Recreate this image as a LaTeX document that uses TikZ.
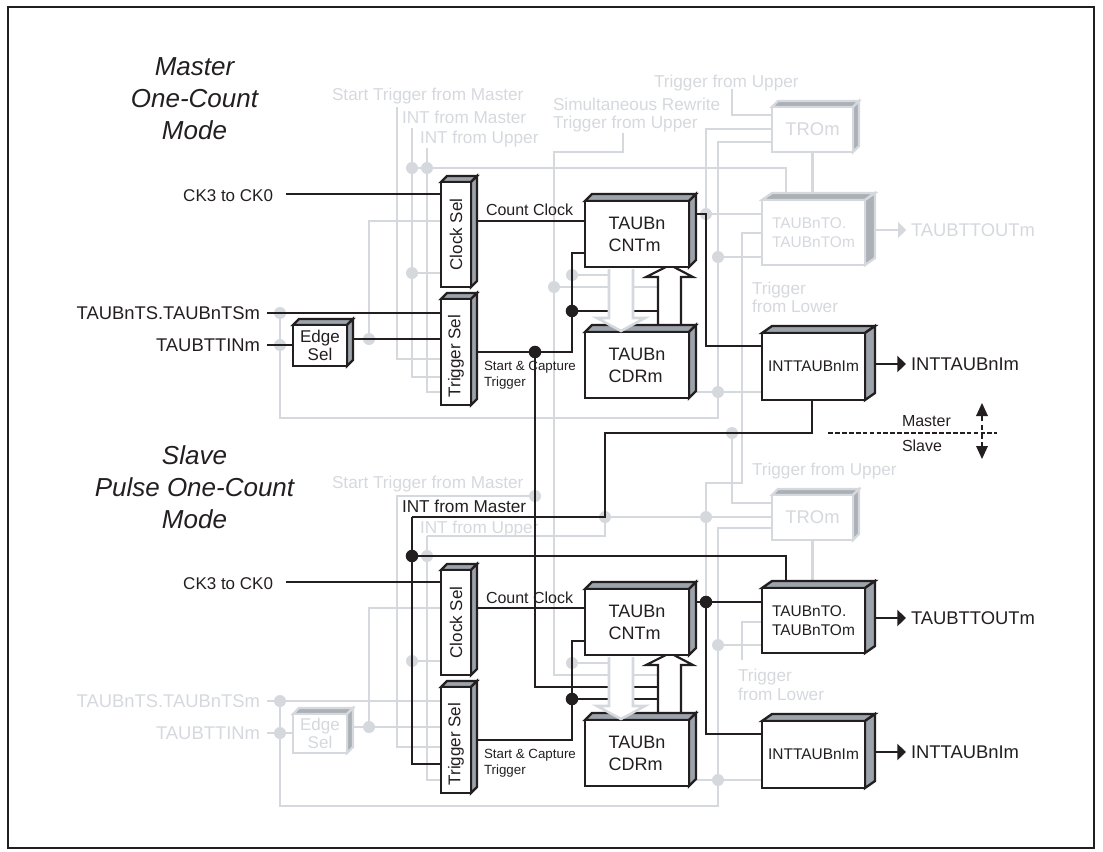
\documentclass[tikz,border=0pt]{standalone}
\usepackage{fontspec}
\usepackage{graphicx}
\setmainfont{Liberation Sans}
\usetikzlibrary{arrows.meta}
\pgfdeclarelayer{wg}\pgfdeclarelayer{bg}\pgfdeclarelayer{wb}\pgfdeclarelayer{top}
\pgfsetlayers{wg,bg,wb,main,top}
\definecolor{ink}{HTML}{231F20}
\definecolor{pale}{HTML}{D5D8DD}
\definecolor{sidek}{HTML}{9DA3AA}
\definecolor{sideg}{HTML}{ABB0B6}
\newcommand{\fs}[2]{\fontsize{#1}{#2}\selectfont}
\tikzset{
  x=0.75pt,y=-0.75pt,
  gw/.style={draw=pale,line width=1.9pt,line join=miter},
  kw/.style={draw=ink,line width=1.65pt,line join=miter},
  gdot/.style={circle,fill=pale,inner sep=0,minimum size=9pt,outer sep=0},
  kdot/.style={circle,fill=ink,inner sep=0,minimum size=9.4pt,outer sep=0},
  lab/.style={inner sep=0,outer sep=0,font=\fs{#1}{14},text height=0.72*#1 pt,text depth=0pt},
  lg/.style={lab=#1,text=pale},
  lk/.style={lab=#1,text=ink},
  blk/.style={draw=ink,fill=white,line width=1.75pt,text=ink,line join=miter},
  gry/.style={draw=pale,fill=white,line width=1.75pt,text=pale,line join=miter},
  outk/.style={kw,-{Triangle[length=6.5pt,width=12pt]}},
  updown/.style={draw=ink,line width=1pt,dash pattern=on 4pt off 2.5pt},
  tboxa/.style={font=\fs{13.5}{16.5},align=left},
  tboxb/.style={font=\fs{11.6}{14.3},align=left},
  tboxc/.style={font=\fs{12.75}{13.5},align=center},
  tboxd/.style={font=\fs{13.8}{16}},
  tboxe/.style={font=\fs{11.6}{14}},
  tboxf/.style={font=\fs{12.75}{15}},
}
\newcommand{\tdbox}[7]{%
  \pgfmathsetmacro{\xa}{#1}\pgfmathsetmacro{\ya}{#2}\pgfmathsetmacro{\xb}{#3}\pgfmathsetmacro{\yb}{#4}%
  \pgfmathsetmacro{\xc}{\xb+#5}\pgfmathsetmacro{\yc}{\ya-#6}\pgfmathsetmacro{\yd}{\yb-#6}\pgfmathsetmacro{\xe}{\xa+#5}%
  \path[#7] (\xa,\ya)--(\xe,\yc)--(\xc,\yc)--(\xb,\ya)--cycle;
  \path[#7] (\xb,\ya)--(\xc,\yc)--(\xc,\yd)--(\xb,\yb)--cycle;
}
\newcommand{\frontbox}[8]{%
  \pgfmathsetmacro{\wid}{((#4)-(#2))*0.75}\pgfmathsetmacro{\hei}{((#5)-(#3))*0.75}%
  \pgfmathsetmacro{\xm}{((#2)+(#4))/2}\pgfmathsetmacro{\ym}{((#3)+(#5))/2}%
  \node[#6,rectangle,inner sep=0,outer sep=0,minimum width=\wid pt,minimum height=\hei pt,#7] (#1) at (\xm,\ym) {#8};
}
\begin{document}
\begin{tikzpicture}
\useasboundingbox (0,0) rectangle (1103,851);
\draw[draw=ink,line width=1.1pt] (8,7) rectangle (1094,848);

% ---------- gray boxes
\begin{pgfonlayer}{bg}
\tdbox{772}{107}{853}{152}{6}{6}{gry,fill=sideg}
\frontbox{troa}{772}{107}{853}{152}{gry}{tboxd}{\raisebox{-1.8pt}{TROm}}
\tdbox{762}{200}{865}{265}{10}{7}{gry,fill=sideg}
\frontbox{toa}{762}{200}{865}{265}{gry}{tboxb}{TAUBnTO.\\TAUBnTOm}
\tdbox{772}{495}{853}{540}{6}{6}{gry,fill=sideg}
\frontbox{trob}{772}{495}{853}{540}{gry}{tboxd}{\raisebox{-1.8pt}{TROm}}
\tdbox{293}{714}{347}{753}{6}{6}{gry,fill=sideg}
\frontbox{edgeb}{293}{714}{347}{753}{gry}{tboxc}{Edge\\Sel}
\end{pgfonlayer}

% ---------- black boxes
\tdbox{293}{325}{347}{366}{6}{6}{blk,fill=sidek}
\frontbox{edgea}{293}{325}{347}{366}{blk}{tboxc}{Edge\\Sel}
\tdbox{762}{588}{865}{653}{10}{7}{blk,fill=sidek}
\frontbox{tob}{762}{588}{865}{653}{blk}{tboxb}{TAUBnTO.\\TAUBnTOm}
\foreach \s/\o in {a/0,b/388}{
  \tdbox{441}{182+\o}{471}{287+\o}{6}{6}{blk,fill=sidek}
  \frontbox{clk\s}{441}{182+\o}{471}{287+\o}{blk}{tboxf}{\rotatebox{90}{Clock Sel}}
  \tdbox{441}{299+\o}{471}{405+\o}{6}{6}{blk,fill=sidek}
  \frontbox{trg\s}{441}{299+\o}{471}{405+\o}{blk}{tboxf}{\rotatebox{90}{Trigger Sel\hspace*{6pt}}}
  \tdbox{585}{201+\o}{689}{267+\o}{7}{7}{blk,fill=sidek}
  \frontbox{cnt\s}{585}{201+\o}{689}{267+\o}{blk}{tboxa}{TAUBn\\CNTm}
  \tdbox{585}{332+\o}{689}{398+\o}{7}{7}{blk,fill=sidek}
  \frontbox{cdr\s}{585}{332+\o}{689}{398+\o}{blk}{tboxa}{TAUBn\\CDRm}
  \tdbox{762}{333+\o}{865}{400+\o}{10}{7}{blk,fill=sidek}
  \frontbox{int\s}{762}{333+\o}{865}{400+\o}{blk}{tboxe}{INTTAUBnIm}
}

% ---------- named junctions
\begin{pgfonlayer}{wg}
\foreach \n/\x/\y in {ga1/412/168,ga2/427/168,ga3/412/273,ga4/369/339,ga5/280/313,ga6/280/345,ga7/554/287,ga8/572/275,ga9/706/214,ga10/718/257,ga11/718/392,ga12/732/433,
 gb1/427/556,gb2/412/661,gb3/369/727,gb4/280/701,gb5/280/733,gb6/535/496,gb7/605/517,gb8/706/517,gb9/572/663,gb10/718/645,gb11/718/780}
  \node[gdot] (\n) at (\x,\y) {};
\end{pgfonlayer}
\node[kdot] (ka1) at (572,311) {};
\node[kdot] (ka2) at (535,352) {};
\node[kdot] (kb1) at (412,556) {};
\node[kdot] (kb2) at (572,699) {};
\node[kdot] (kb3) at (706,602) {};

% free ends and levels
\foreach \n/\x/\y in {sa/397/107,ima/412/128,iua/427/148,ya359/441/359,ya377/441/377,ya392/441/392,
 rw/623/133,rwc/554/152,rwe/657/675,rwr/658/287,rwq/609/287,rwq2/633/287,
 tua/732/89,ya115/772/115,ya129/772/129,ya142/772/142,tol/742/233,to233/762/233,ya257/762/257,ya221/441/221,
 bot/280/418,bota/718/418,
 tsl/267/313,ttl/267/345,ckl/286/194,cka/441/194,tsb/267/701,ttb/267/733,ckb/286/582,ckr/441/582,
 c483/706/483,c483b/742/483,low/742/660,low2/742/622,low3/762/622,
 c503/732/503,c503b/772/503,c528/718/528,c528b/772/528,botb/280/806,botc/718/806,
 c496/397/496,y747/441/747,c536/427/536,c536b/605/536,y780/427/780,y780b/441/780,y608/369/608,y608b/441/608,
 e517/772/517,mid/605/433,mid2/812/433,d517/412/517,y764/441/764,
 j687/535/687,j687b/657/687,j311/657/311,j699/657/699,
 ka253/585/253,kb641/585/641,y346/706/346,y734/706/734,cda/696/392,cdb/696/780,
 ka214/696/214,kb602/696/602,k214r/706/214,o230/875/230,o230m/899/230,o364/875/364,o364e/906/364,o618/875/618,o618e/906/618,o752/875/752,o752e/906/752,
 ms1/828/433,ms2/997/433,mt/982/416,mb/982/446,w168/786/168,w556/786/556,k740/572/740,k740l/477/740,l352/477/352}
  \coordinate (\n) at (\x,\y);

% ---------- gray wires
\begin{pgfonlayer}{wg}
\draw[gw] (sa) |- (ya359);
\draw[gw] (ima) |- (ya377);
\draw[gw] (iua) |- (ya392);
\draw[gw] (ga1) -- (w168) -- (w168 |- toa.north);
\draw[gw] (ga3) -- (ga3 -| clka.west);
\draw[gw] (ga4) |- (ya221);
\draw[gw] (ga5) |- (bot) -- (bota) |- (ya142);
\draw[gw] (rw) |- (rwc) |- (rwe);
\draw[gw] (ga7) -- (rwq);
\draw[gw] (rwq2) -- (rwr);
\draw[gw] (ga8) -- (ga8 -| rwq);
\draw[gw] (tua) |- (ya115);
\draw[gw] (ga9) |- (ya129);
\draw[gw] (ga9) -- (ga9 -| toa.west);
\draw[gw] (ga10) -- (ya257);
\draw[gw] (cda) -- (ga11 -| inta.west);
\draw[gw] (troa.south) -- (troa.south |- toa.north);
\draw[gw] (to233) -| (c483b) -- (c483) -- (kb3);
\draw[gw] (ga12) |- (c503b);
\draw[gw] (gb7) -- (e517);
\draw[gw] (c528b) -| (botc) -- (botb) -- (gb4);
\draw[gw] (gb4) -- (gb4 -| trgb.west);
\draw[gw] (tsb) -- (gb4);
\draw[gw] (ttb) -- (ttb -| edgeb.west);
\draw[gw] (gb3 -| edgeb.east) -- (gb3 -| trgb.west);
\draw[gw] (gb3) |- (y608b);
\draw[gw] (gb2) -- (gb2 -| clkb.west);
\draw[gw] (gb6) -- (c496) |- (y747);
\draw[gw] (c536) -- (c536b) -- (gb7);
\draw[gw] (c536) |- (y780b);
\draw[gw] (gb9) -- (gb9 -| rwq);
\draw[gw] (gb10) -- (gb10 -| tob.west);
\draw[gw] (cdb) -- (gb11 -| intb.west);
\draw[gw] (low3) -| (low);
\draw[gw] (trob.south) -- (trob.south |- tob.north);
\draw[gw] (o230) -- (o230m);
\fill[pale] (906,230) -- (898,222) -- (898,238) -- cycle;
% labels
\node[lg=12.9,anchor=west] (l1) at (332,94) {Start Trigger from Master};
\node[lg=12.9,anchor=west] (l2) at (402,117) {INT from Master};
\node[lg=12.9,anchor=west] (l3) at (420,137) {INT from Upper};
\node[lg=12.9,anchor=west] (l4) at (553,104) {Simultaneous Rewrite};
\node[lg=12.9,anchor=west] (l5) at (553,122) {Trigger from Upper};
\node[lg=12.9,anchor=west] (l6) at (654,81) {Trigger from Upper};
\node[lg=12.9,anchor=west] (l7) at (752,288) {Trigger};
\node[lg=12.9,anchor=west] (l8) at (752,306) {from Lower};
\node[lg=13.8,anchor=west] (l9) at (911,230) {TAUBTTOUTm};
\node[lg=12.9,anchor=west] (l10) at (332,482) {Start Trigger from Master};
\node[lg=12.9,anchor=west] (l11) at (420,527) {INT from Upper};
\node[lg=12.9,anchor=west] (l12) at (752,469) {Trigger from Upper};
\node[lg=12.9,anchor=west] (l13) at (738,675) {Trigger};
\node[lg=12.9,anchor=west] (l14) at (738,694) {from Lower};
\node[lg=13.8,anchor=east] (l15) at (260,701) {TAUBnTS.TAUBnTSm};
\node[lg=13.8,anchor=east] (l16) at (260,733) {TAUBTTINm};
\end{pgfonlayer}

% ---------- black wires
\begin{pgfonlayer}{wb}
\draw[kw] (ckl) -- (cka);
\draw[kw] (ckb) -- (ckr);
\draw[kw] (tsl) -- (tsl -| trga.west);
\draw[kw] (ttl) -- (ttl -| edgea.west);
\draw[kw] (ga4 -| edgea.east) -- (ga4 -| trga.west);
\draw[kw] (ya221 -| clka.east) -- (ya221 -| cnta.west);
\draw[kw] (y608b -| clkb.east) -- (y608b -| cntb.west);
\draw[kw] (l352) -- (ka2) -| (ka1) |- (ka253);
\draw[kw] (ka1) -- (j311);
\draw[kw] (ka2) |- (j687) -- (j687b);
\draw[kw] (k740l) -- (k740) -- (kb2) |- (kb641);
\draw[kw] (kb2) -- (j699);
\draw[kw] (ka214) -- (k214r) |- (y346 -| inta.west);
\draw[kw] (kb602) -- (kb602 -| tob.west);
\draw[kw] (kb3) |- (y734 -| intb.west);
\draw[kw] (inta.south -| mid2) |- (mid) |- (d517);
\draw[kw] (d517) |- (y764);
\draw[kw] (kb1) -- (w556) -- (w556 |- tob.north);
% hollow up arrows
\foreach \o in {0,388}{
  \path[kw,fill=white] (658,326+\o) -- (658,277+\o) -- (646,277+\o) -- (670,265+\o) -- (693,277+\o) -- (681,277+\o) -- (681,326+\o);
}
\draw[outk] (o364) -- (o364e);
\draw[outk] (o618) -- (o618e);
\draw[outk] (o752) -- (o752e);
\draw[draw=ink,line width=0.8pt,dash pattern=on 3.6pt off 1.6pt] (ms1) -- (ms2);
\draw[updown] (mt) -- (mb);
\fill[ink] (982,403) -- (976,416) -- (988,416) -- cycle;
\fill[ink] (982,459) -- (976,446) -- (988,446) -- cycle;
\end{pgfonlayer}

% hollow gray arrows on top of the CDRm boxes
\begin{pgfonlayer}{top}
\foreach \o in {0,388}{
  \path[gw,fill=white] (609,269+\o) -- (609,318+\o) -- (597,318+\o) -- (621,331+\o) -- (645,318+\o) -- (633,318+\o) -- (633,269+\o);
}
\end{pgfonlayer}

% ---------- black text
\node[text=ink,inner sep=0,align=center,font=\fs{19.5}{24}\itshape] (t1) at (194.5,99) {Master\\One-Count\\Mode};
\node[text=ink,inner sep=0,align=center,font=\fs{19.5}{24}\itshape] (t2) at (194.5,487) {Slave\\Pulse One-Count\\Mode};
\node[lk=12.75,anchor=east] (n1) at (273,195) {CK3 to CK0};
\node[lk=12.75,anchor=east] (n2) at (273,583) {CK3 to CK0};
\node[lk=13.8,anchor=east] (n3) at (260,313) {TAUBnTS.TAUBnTSm};
\node[lk=13.8,anchor=east] (n4) at (260,345) {TAUBTTINm};
\node[lk=12,anchor=west] (n5) at (486,210) {Count Clock};
\node[lk=12,anchor=west] (n6) at (486,598) {Count Clock};
\node[lk=10,anchor=west] (n7) at (484,366) {Start \& Capture};
\node[lk=10,anchor=west] (n8) at (484,382) {Trigger};
\node[lk=10,anchor=west] (n9) at (484,754) {Start \& Capture};
\node[lk=10,anchor=west] (n10) at (484,770) {Trigger};
\node[lk=12.9,anchor=west] (n11) at (402,506) {INT from Master};
\node[lk=13.8,anchor=west] (n12) at (911,364) {INTTAUBnIm};
\node[lk=13.8,anchor=west] (n13) at (911,618) {TAUBTTOUTm};
\node[lk=13.8,anchor=west] (n14) at (911,752) {INTTAUBnIm};
\node[lk=12,anchor=west] (n15) at (902,421) {Master};
\node[lk=12,anchor=west] (n16) at (902,446) {Slave};
\end{tikzpicture}
\end{document}
